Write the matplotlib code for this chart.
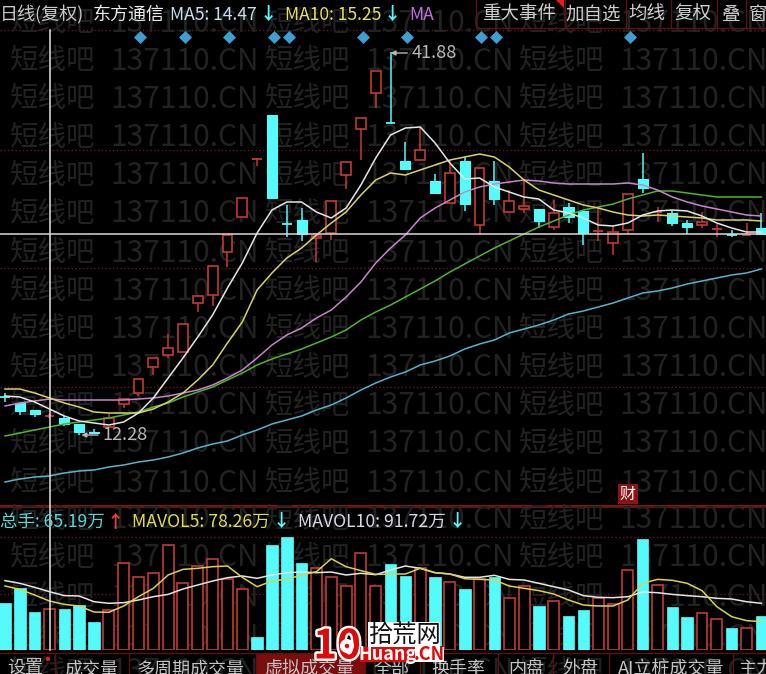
import matplotlib
matplotlib.use('Agg')
import matplotlib.pyplot as plt
import matplotlib.patheffects as pe
from matplotlib.patches import Rectangle, Circle

plt.rcParams['font.family'] = ['Noto Sans CJK SC', 'DejaVu Sans']

# candle levels (hidden price scale, no ticks are shown)
body_top = [103, 97, 90, 84, 82, 76, 68, 82, 101, 121, 142, 152, 176, 204, 234, 265, 302, 341, 385, 276,
            280, 264, 299, 338, 382, 429, 377, 339, 350, 319, 327, 339, 332, 319, 299, 294, 291, 287, 293, 289,
            269, 268, 306, 321, 288, 287, 277, 278, 271, 265, 265, 272]
body_bottom = [103, 89, 86, 84, 76, 68, 67, 73, 96, 107, 133, 145, 148, 197, 205, 248, 283, 341, 302, 276,
               266, 262, 267, 325, 371, 407, 377, 331, 340, 307, 297, 296, 275, 301, 288, 291, 279, 273, 283, 267,
               269, 257, 270, 312, 288, 277, 273, 275, 271, 265, 265, 266]
wick_high = [107, 97, 90, 86, 84, 76, 71, 86, 101, 121, 142, 166, 176, 204, 234, 265, 302, 341, 385, 295,
             292, 267, 299, 338, 382, 429, 448, 358, 372, 326, 340, 343, 332, 339, 310, 320, 291, 300, 297, 289,
             292, 274, 306, 347, 293, 290, 280, 288, 276, 270, 277, 287]
wick_low = [98, 85, 83, 82, 74, 65, 67, 73, 92, 104, 125, 142, 148, 188, 194, 233, 283, 334, 301, 263,
            259, 238, 260, 311, 340, 392, 377, 331, 340, 307, 297, 289, 265, 295, 288, 287, 272, 270, 277, 255,
            259, 245, 266, 307, 278, 274, 266, 272, 263, 263, 264, 266]
candle_up = [0, 0, 0, 1, 0, 0, 0, 1, 1, 1, 1, 1, 1, 1, 1, 1, 1, 1, 0, 0,
             0, 1, 1, 1, 1, 1, 0, 0, 1, 0, 1, 0, 1, 0, 1, 1, 0, 1, 0, 0,
             1, 1, 1, 0, 1, 0, 0, 1, 1, 0, 1, 0]

ma5 = [104, 103, 98, 91, 84, 79, 77, 75, 78, 87, 102, 122, 142, 163, 185, 212, 237, 267, 290, 298,
       298, 288, 282, 292, 315, 342, 365, 372, 373, 357, 337, 321, 322, 313, 308, 303, 301, 290, 287, 282,
       275, 274, 277, 285, 289, 290, 289, 284, 277, 272, 268, 268]
ma10 = [111, 111, 107, 102, 97, 93, 88, 87, 87, 87, 91, 98, 107, 120, 135, 157, 178, 210, 227, 242,
        252, 265, 277, 288, 305, 320, 327, 325, 330, 335, 340, 343, 346, 343, 333, 320, 310, 305, 300, 295,
        292, 288, 285, 284, 285, 284, 283, 282, 280, 280, 280, 279]
ma20 = [94, 97, 99, 101, 100, 100, 100, 100, 100, 101, 102, 104, 107, 110, 115, 122, 130, 142, 155, 165,
        172, 182, 190, 203, 218, 237, 252, 265, 282, 292, 300, 308, 313, 316, 318, 320, 319, 317, 316, 316,
        316, 316, 317, 315, 310, 303, 298, 294, 291, 288, 285, 284]
ma60 = [64, 67, 70, 73, 76, 78, 80, 82, 85, 88, 93, 97, 103, 108, 113, 120, 127, 135, 141, 146,
        151, 157, 163, 170, 180, 188, 195, 203, 211, 219, 228, 236, 244, 252, 259, 266, 273, 279, 285, 290,
        293, 296, 301, 305, 309, 309, 307, 305, 303, 303, 303, 303]
ma120 = [18, 21, 23, 24, 27, 29, 30, 33, 35, 38, 40, 43, 47, 52, 56, 59, 65, 70, 76, 80,
         84, 90, 95, 102, 110, 117, 123, 128, 135, 139, 144, 151, 156, 160, 167, 171, 175, 180, 186, 189,
         193, 197, 202, 207, 209, 212, 216, 219, 222, 225, 227, 231]

# volume in 万手
volume = [75.2, 99.2, 60.8, 65.2, 65.6, 72, 44.8, 64, 139.2, 116.8, 123.2, 168, 107.2, 134.4, 145.6, 113.6,
          97.6, 20.8, 168, 180.8, 139.2, 131.2, 116.8, 102.4, 155.2, 102.4, 137.6, 118.4, 131.2, 116.8, 108.8,
          97.6, 113.6, 116.8, 83.2, 102.4, 70.4, 78.4, 54.4, 64, 83.2, 73.6, 128, 177.6, 104, 68.8, 52.8, 59.2,
          49.6, 35.2, 35.2, 54.4]
volume_up = [0, 0, 0, 1, 0, 0, 0, 1, 1, 1, 1, 1, 1, 1, 1, 1, 1, 0, 0, 0,
             0, 1, 1, 1, 1, 1, 0, 0, 1, 0, 1, 0, 1, 0, 1, 1, 0, 1, 0, 0,
             1, 1, 1, 0, 1, 0, 0, 1, 1, 0, 1, 0]
mavol5 = [102.4, 97, 88, 78.4, 73, 70.4, 60.8, 60.3, 70.4, 85.3, 98.7, 120, 129, 130.7, 133.3, 134.4, 116.3,
          101.3, 110.4, 113, 120, 125.3, 146, 133.3, 127, 121, 121.6, 121.6, 130.7, 123.7, 121.6, 114, 113, 112,
          102.4, 98.7, 95, 89.6, 80, 72, 70.4, 70.4, 80, 106.7, 113, 111.5, 106.7, 95, 69.3, 53.3, 47, 45.3]
mavol10 = [111, 106.7, 100.3, 93.3, 87, 86.4, 77.3, 74.7, 75.7, 80, 85.3, 89, 97.6, 104, 110.4, 115.7, 118.4,
           114.7, 120, 123.7, 124.8, 123.7, 124.8, 120, 122.7, 120.5, 128, 134.4, 130.7, 123.7, 121.6, 116.3,
           116.3, 119.5, 113, 112, 106.7, 101.3, 96, 87, 84.3, 83.7, 85.3, 92.8, 91.7, 89, 87, 85.3, 82.7, 81.6,
           77.3, 74.7]

event_bars = [9, 12, 15, 18, 19, 24, 27, 32, 33, 42]
high_bar, high_price = 26, 41.88
low_bar, low_price = 5, 12.28
finance_bar = 42

tabs = ['设置', '成交量', '多周期成交量', '虚拟成交量', '全部', '换手率', '内盘', '外盘', 'AI立桩成交量', '主力']
tab_x = [25, 91, 191, 309, 392, 458, 526, 580, 671, 757]
tab_edges = [55, 129, 256, 365, 420, 498, 553, 609, 733]
buttons = ['重大事件', '加自选', '均线', '复权', '叠', '窗']
button_x = [519, 593, 647, 693, 731, 758]
button_edges = [476, 565, 626, 671, 717, 746]

RED = '#c23a34'
CYAN = '#55fbfb'
GRID = '#7a1818'
W, H = 766, 674

fig = plt.figure(figsize=(W / 100, H / 100), dpi=100, facecolor='black')
xlim = (-5 / 14.83, 761 / 14.83)


def make_axes(top, bottom, ylim, zorder):
    ax = fig.add_axes([0, 1 - bottom / H, 1, (bottom - top) / H], zorder=zorder)
    ax.set_xlim(*xlim)
    ax.set_ylim(*ylim)
    ax.axis('off')
    ax.patch.set_alpha(0)
    return ax


# watermark and header/tab layers use picture coordinates
back = fig.add_axes([0, 0, 1, 1], zorder=0)
back.set_xlim(0, W)
back.set_ylim(H, 0)
back.axis('off')
front = fig.add_axes([0, 0, 1, 1], zorder=5)
front.set_xlim(0, W)
front.set_ylim(H, 0)
front.axis('off')
front.patch.set_alpha(0)

for y in [23, 61, 99, 138, 176, 214, 253, 291, 329, 368, 406, 444, 483, 520, 558, 597, 637, 672]:
    for x in [10, 265, 519]:
        back.text(x, y, '短线吧', color='#222222', fontsize=20.5, va='center', ha='left')
        back.text(x + 100, y, '137110.CN', color='#222222', fontsize=21.5, va='center', ha='left')

for y in [30, 150, 268, 387, 537, 594]:
    back.plot([0, W], [y, y], color=GRID, lw=0.9, ls=(0, (1, 2)))
back.plot([0, W], [507, 507], color=GRID, lw=1.2)
back.plot([0, W], [505, 505], color=GRID, lw=0.8)

# candles
ax = make_axes(0, 500, (0, 500), 2)
for i in range(len(body_top)):
    color = RED if candle_up[i] else CYAN
    ax.vlines(i, wick_low[i], wick_high[i], color=color, lw=1.1, zorder=2)
    height = body_top[i] - body_bottom[i]
    if height == 0:
        ax.hlines(body_top[i], i - 0.33, i + 0.33, color=color, lw=1.3, zorder=3)
    elif candle_up[i]:
        ax.bar(i, height, 0.66, bottom=body_bottom[i], facecolor='black', edgecolor=RED, lw=1.2, zorder=3)
    else:
        ax.bar(i, height, 0.68, bottom=body_bottom[i], facecolor=CYAN, edgecolor=CYAN, lw=0.8, zorder=3)

bars = range(len(ma5))
ax.plot(bars, ma120, color='#55b4cc', lw=1.1, zorder=4)
ax.plot(bars, ma60, color='#4fb52e', lw=1.1, zorder=4)
ax.plot(bars, ma20, color='#c884cc', lw=1.1, zorder=4)
ax.plot(bars, ma10, color='#d8d268', lw=1.1, zorder=5)
ax.plot(bars, ma5, color='#e6e6e6', lw=1.1, zorder=6)

ax.scatter([b + 0.12 for b in event_bars], [463] * len(event_bars), marker='D', s=44, color='#3d9fd2', lw=0, zorder=7)

ax.annotate(f'{high_price}', xy=(high_bar, wick_high[high_bar] - 1), xytext=(15, 0), textcoords='offset points',
            color='#b9b9b9', fontsize=13, va='center',
            arrowprops=dict(arrowstyle='-|>', color='#b9b9b9', lw=1.0, mutation_scale=7, shrinkA=1, shrinkB=0))
ax.annotate(f'{low_price}', xy=(low_bar + 0.15, wick_low[low_bar]), xytext=(15, 0), textcoords='offset points',
            color='#b9b9b9', fontsize=13, va='center',
            arrowprops=dict(arrowstyle='-|>', color='#b9b9b9', lw=1.0, mutation_scale=7, shrinkA=1, shrinkB=0))
ax.text(finance_bar, 6, '财', color='white', fontsize=11.5, ha='center', va='center',
        bbox=dict(boxstyle='square,pad=0.12', fc='#8a1414', ec='none'))

# volume
vol_ax = make_axes(520, 650, (0, 208), 2)
for i in range(len(volume)):
    if volume_up[i]:
        vol_ax.bar(i, volume[i], 0.74, facecolor='black', edgecolor=RED, lw=1.2, zorder=2)
    else:
        vol_ax.bar(i, volume[i], 0.78, facecolor=CYAN, edgecolor=CYAN, lw=0.5, zorder=2)
vol_ax.plot(bars, mavol10, color='#e6e6e6', lw=1.1, zorder=4)
vol_ax.plot(bars, mavol5, color='#d8d24e', lw=1.1, zorder=5)

# crosshair
front.plot([50, 50], [30, 650], color='#e4e4e4', lw=1.1, zorder=1)
front.plot([0, W], [234, 234], color='#d8d8d8', lw=1.1, zorder=1)


def label(x, y, s, color, size=12.6, ha='left', **kw):
    front.text(x, y, s, color=color, fontsize=size, ha=ha, va='center', **kw)


# header rows
label(0, 15, '日线(复权)', '#c8c8c8', 13)
label(93, 15, '东方通信', '#ececec', 13)
label(170, 15, 'MA5: 14.47', '#c8dcf0')
label(268, 15, '↓', CYAN, 12.5, ha='center', fontweight='bold')
label(285, 15, 'MA10: 15.25', '#e6e060')
label(392, 15, '↓', CYAN, 12.5, ha='center', fontweight='bold')
label(409, 15, 'MA', '#c070e0')

front.plot([476, 476, W], [0, 28, 28], color='#5c1212', lw=1.0)
for x in button_edges[1:]:
    front.plot([x, x], [0, 28], color='#5c1212', lw=1.0)
for x, s in zip(button_x, buttons):
    label(x, 15, s, '#cfcfcf', 13.3, ha='center')
front.fill([556, 564, 564], [0, 0, 8], color='#f01818', lw=0)

label(0, 522, '总手: 65.19万', '#58d8d8', 12.6)
label(115, 522, '↑', '#e84040', 12.5, ha='center', fontweight='bold')
label(132, 522, 'MAVOL5: 78.26万', '#e0dc50', 12.7)
label(281, 522, '↓', CYAN, 12.5, ha='center', fontweight='bold')
label(298, 522, 'MAVOL10: 91.72万', '#d8d8e8', 12.7)
label(457, 522, '↓', CYAN, 12.5, ha='center', fontweight='bold')

# bottom tabs
front.add_patch(Rectangle((256, 654), 109, 20, fc='#7a0e0e', ec='none', zorder=1))
front.plot([0, W], [653, 653], color='#5c1212', lw=1.0, zorder=1)
for x in tab_edges:
    front.plot([x, x], [654, H], color='#5c1212', lw=1.0, zorder=1)
for x, s in zip(tab_x, tabs):
    label(x, 669, s, '#c4c4c4', 13, ha='center', clip_on=True)
front.add_patch(Circle((48, 659), 2.2, fc='#f01818', ec='none'))

# site logo
outline = [pe.withStroke(linewidth=3.5, foreground='white')]
front.text(337, 647, '10', color='#e00808', fontsize=29, fontweight='bold', ha='center', va='center',
           path_effects=outline, zorder=6)
front.add_patch(Circle((347, 646), 7, fc='white', ec='none', zorder=7))
front.add_patch(Circle((347, 646), 2.2, fc='#e00808', ec='none', zorder=8))
front.add_patch(Rectangle((368, 622), 72, 26, fc='white', ec='none', zorder=6))
front.text(404, 635, '拾荒网', color='#111111', fontsize=17.5, ha='center', va='center', zorder=7)
front.add_patch(Rectangle((360, 647), 55, 15, fc='#e00808', ec='none', zorder=6))
front.add_patch(Rectangle((415, 647), 29, 15, fc='white', ec='none', zorder=6))
front.text(387, 654, 'Huang', color='white', fontsize=13, fontweight='bold', ha='center', va='center', zorder=7)
front.text(429, 654, '.CN', color='#e00808', fontsize=13, fontweight='bold', ha='center', va='center', zorder=7)

fig.savefig('out.png', dpi=100, facecolor='black')
